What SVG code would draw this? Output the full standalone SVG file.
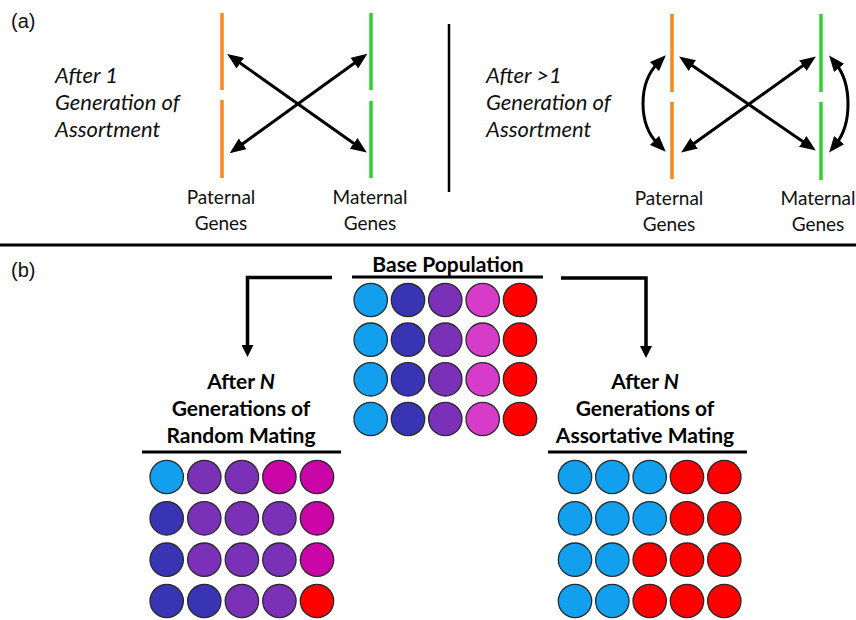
<svg xmlns="http://www.w3.org/2000/svg" width="856" height="620" viewBox="0 0 856 620">
<defs>
<style>
.lbl{font-family:"Liberation Sans",Arial,sans-serif;font-size:20px;fill:#111}
.it{font-family:Lato,"Open Sans",sans-serif;font-style:italic;font-size:22px;fill:#111}
.gn{font-family:Lato,"Open Sans",sans-serif;font-size:19px;fill:#111;text-anchor:middle}
.tt{font-family:Lato,"Open Sans",sans-serif;font-weight:bold;font-size:21px;fill:#000;text-anchor:middle}
.pat{stroke:#f5891f;stroke-width:3.5;fill:none}
.mat{stroke:#2fd02f;stroke-width:3.5;fill:none}
.ar{stroke:#000;stroke-width:3;fill:none;marker-start:url(#ah);marker-end:url(#ah)}
.arb{stroke:#000;stroke-width:3.5;fill:none;stroke-linejoin:miter;marker-end:url(#ahb)}
.rule{stroke:#000;fill:none}
circle{stroke:#2a2a2a;stroke-width:1.3}
.lb{fill:#12a0ee}.db{fill:#3834b4}.pu{fill:#7b31b7}.pk{fill:#d63bc9}.mg{fill:#c905a8}.rd{fill:#fe0000}
</style>
<marker id="ah" viewBox="0 0 16 13" refX="5" refY="6.5" markerWidth="16" markerHeight="13" markerUnits="userSpaceOnUse" orient="auto-start-reverse">
<path d="M0,0 L16,6.5 L0,13 z" fill="#000"/>
</marker>
<marker id="ahb" viewBox="0 0 12 12" refX="2" refY="6" markerWidth="12" markerHeight="12" markerUnits="userSpaceOnUse" orient="auto">
<path d="M0,0 L12,6 L0,12 z" fill="#000"/>
</marker>
</defs>
<rect width="856" height="620" fill="#fff"/>

<g id="label-a"><text class="lbl" x="11" y="28">(a)</text></g>
<g id="label-b"><text class="lbl" x="11" y="277">(b)</text></g>

<g id="a1-caption">
<text class="it" x="55" y="83">After 1</text>
<text class="it" x="55" y="110">Generation of</text>
<text class="it" x="55" y="137">Assortment</text>
</g>
<g id="a1-paternal">
<line class="pat" x1="222" y1="13" x2="222" y2="90"/>
<line class="pat" x1="222" y1="100" x2="222" y2="178"/>
<text class="gn" x="221" y="204">Paternal</text>
<text class="gn" x="221" y="230">Genes</text>
</g>
<g id="a1-maternal">
<line class="mat" x1="371" y1="13" x2="371" y2="90"/>
<line class="mat" x1="371" y1="101" x2="371" y2="178"/>
<text class="gn" x="370" y="204">Maternal</text>
<text class="gn" x="370" y="230">Genes</text>
</g>

<g id="divider-a"><line class="rule" x1="449" y1="24" x2="449" y2="192" stroke-width="2.5"/></g>

<g id="a2-caption">
<text class="it" x="486" y="83">After &gt;1</text>
<text class="it" x="486" y="110">Generation of</text>
<text class="it" x="486" y="137">Assortment</text>
</g>
<g id="a2-paternal">
<line class="pat" x1="672" y1="14" x2="672" y2="92"/>
<line class="pat" x1="672" y1="102" x2="672" y2="179"/>
<text class="gn" x="669" y="205">Paternal</text>
<text class="gn" x="669" y="231">Genes</text>
</g>
<g id="a2-maternal">
<line class="mat" x1="821" y1="14" x2="821" y2="92"/>
<line class="mat" x1="821" y1="102" x2="821" y2="180"/>
<text class="gn" x="818" y="205">Maternal</text>
<text class="gn" x="818" y="231">Genes</text>
</g>

<g id="divider-ab"><line class="rule" x1="0" y1="245" x2="856" y2="245" stroke-width="3"/></g>

<g id="base-population">
<text class="tt" x="448" y="272">Base Population</text>
<line class="rule" x1="352" y1="277" x2="543" y2="277" stroke-width="3"/>
<g>
<circle class="lb" cx="370.7" cy="300" r="16.7"/><circle class="db" cx="408" cy="300" r="16.7"/><circle class="pu" cx="445.3" cy="300" r="16.7"/><circle class="pk" cx="482.7" cy="300" r="16.7"/><circle class="rd" cx="520" cy="300" r="16.7"/>
<circle class="lb" cx="370.7" cy="339.7" r="16.7"/><circle class="db" cx="408" cy="339.7" r="16.7"/><circle class="pu" cx="445.3" cy="339.7" r="16.7"/><circle class="pk" cx="482.7" cy="339.7" r="16.7"/><circle class="rd" cx="520" cy="339.7" r="16.7"/>
<circle class="lb" cx="370.7" cy="379.3" r="16.7"/><circle class="db" cx="408" cy="379.3" r="16.7"/><circle class="pu" cx="445.3" cy="379.3" r="16.7"/><circle class="pk" cx="482.7" cy="379.3" r="16.7"/><circle class="rd" cx="520" cy="379.3" r="16.7"/>
<circle class="lb" cx="370.7" cy="419" r="16.7"/><circle class="db" cx="408" cy="419" r="16.7"/><circle class="pu" cx="445.3" cy="419" r="16.7"/><circle class="pk" cx="482.7" cy="419" r="16.7"/><circle class="rd" cx="520" cy="419" r="16.7"/>
</g>
</g>

<g id="random-mating">
<text class="tt" x="241" y="389">After <tspan font-style="italic">N</tspan></text>
<text class="tt" x="241" y="416">Generations of</text>
<text class="tt" x="241" y="443">Random Mating</text>
<line class="rule" x1="142" y1="452" x2="341" y2="452" stroke-width="3"/>
<g>
<circle class="lb" cx="166.7" cy="477" r="16.7"/><circle class="pu" cx="204.3" cy="477" r="16.7"/><circle class="pu" cx="241.9" cy="477" r="16.7"/><circle class="mg" cx="279.4" cy="477" r="16.7"/><circle class="mg" cx="317" cy="477" r="16.7"/>
<circle class="db" cx="166.7" cy="518.3" r="16.7"/><circle class="pu" cx="204.3" cy="518.3" r="16.7"/><circle class="pu" cx="241.9" cy="518.3" r="16.7"/><circle class="pu" cx="279.4" cy="518.3" r="16.7"/><circle class="mg" cx="317" cy="518.3" r="16.7"/>
<circle class="db" cx="166.7" cy="559.7" r="16.7"/><circle class="pu" cx="204.3" cy="559.7" r="16.7"/><circle class="pu" cx="241.9" cy="559.7" r="16.7"/><circle class="pu" cx="279.4" cy="559.7" r="16.7"/><circle class="mg" cx="317" cy="559.7" r="16.7"/>
<circle class="db" cx="166.7" cy="601" r="16.7"/><circle class="db" cx="204.3" cy="601" r="16.7"/><circle class="pu" cx="241.9" cy="601" r="16.7"/><circle class="pu" cx="279.4" cy="601" r="16.7"/><circle class="rd" cx="317" cy="601" r="16.7"/>
</g>
</g>

<g id="assortative-mating">
<text class="tt" x="645" y="389">After <tspan font-style="italic">N</tspan></text>
<text class="tt" x="645" y="416">Generations of</text>
<text class="tt" x="645" y="443">Assortative Mating</text>
<line class="rule" x1="548" y1="452" x2="747" y2="452" stroke-width="3"/>
<g>
<circle class="lb" cx="575" cy="477" r="16.7"/><circle class="lb" cx="612.3" cy="477" r="16.7"/><circle class="lb" cx="649.7" cy="477" r="16.7"/><circle class="rd" cx="687" cy="477" r="16.7"/><circle class="rd" cx="724.3" cy="477" r="16.7"/>
<circle class="lb" cx="575" cy="518.3" r="16.7"/><circle class="lb" cx="612.3" cy="518.3" r="16.7"/><circle class="lb" cx="649.7" cy="518.3" r="16.7"/><circle class="rd" cx="687" cy="518.3" r="16.7"/><circle class="rd" cx="724.3" cy="518.3" r="16.7"/>
<circle class="lb" cx="575" cy="559.7" r="16.7"/><circle class="lb" cx="612.3" cy="559.7" r="16.7"/><circle class="rd" cx="649.7" cy="559.7" r="16.7"/><circle class="rd" cx="687" cy="559.7" r="16.7"/><circle class="rd" cx="724.3" cy="559.7" r="16.7"/>
<circle class="lb" cx="575" cy="601" r="16.7"/><circle class="lb" cx="612.3" cy="601" r="16.7"/><circle class="rd" cx="649.7" cy="601" r="16.7"/><circle class="rd" cx="687" cy="601" r="16.7"/><circle class="rd" cx="724.3" cy="601" r="16.7"/>
</g>
</g>

<g id="connectors">
<line class="ar" x1="236.2" y1="60.3" x2="357.8" y2="146.2"/>
<line class="ar" x1="358.4" y1="60.3" x2="238.6" y2="146.7"/>
<line class="ar" x1="688.2" y1="62.7" x2="806.8" y2="144.3"/>
<line class="ar" x1="806.9" y1="62.8" x2="690.1" y2="146.2"/>
<path class="ar" d="M658,63 C638,83 638,124 658,144"/>
<path class="ar" d="M836,64 C852,84 852,124 836,144"/>
<path class="arb" d="M332,277.5 H247.5 V347"/>
<path class="arb" d="M561,278 H646 V348"/>
</g>
</svg>
